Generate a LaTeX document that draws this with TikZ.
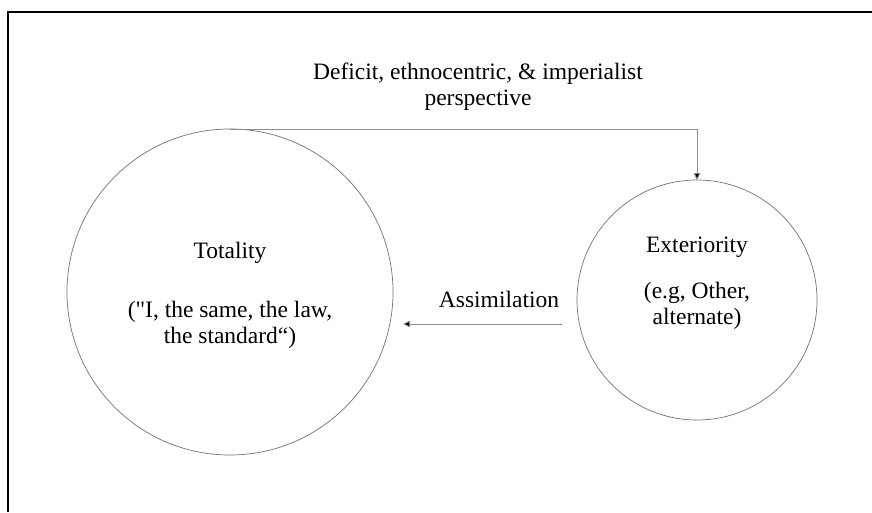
\documentclass[tikz,border=0pt]{standalone}
\usepackage{fontspec}
\setmainfont{Liberation Serif}
\usetikzlibrary{arrows.meta}
\begin{document}
\begin{tikzpicture}[x=1pt,y=-1pt,
  ring/.style={circle,draw=black!55,line width=0.7pt,inner sep=0pt,outer sep=0pt},
  conn/.style={draw=black!45,line width=0.8pt},
  tip/.style={-{Triangle[length=7pt,width=6.5pt,fill=black]}},
  lbl/.style={anchor=base,inner sep=0pt,font=\fontsize{23.5pt}{26pt}\selectfont,text=black},
  frame/.style={draw=black,line width=2pt}]
\useasboundingbox (0,0) rectangle (872,512);
\fill[white] (0,0) rectangle (872,512);
% frame (top and left edges)
\coordinate (f1) at (872,12);
\coordinate (f2) at (8,12);
\coordinate (f3) at (8,512);
\draw[frame] (f1) -- (f2) -- (f3);
% circles
\node[ring,minimum size=326pt] (tot) at (230,292) {};
\node[ring,minimum size=240pt] (ext) at (697,300) {};
% texts
\node[lbl] (persp1) at (478,79) {Deficit, ethnocentric, \& imperialist};
\node[lbl] (persp2) at (478,105) {perspective};
\node[lbl] (totT) at (230,258) {Totality};
\node[lbl] (tot1) at (230,317) {(\textquotedbl I, the same, the law,};
\node[lbl] (tot2) at (230,343) {the standard“)};
\node[lbl] (extT) at (697,252) {Exteriority};
\node[lbl] (ext1) at (697,298) {(e.g, Other,};
\node[lbl] (ext2) at (697,324) {alternate)};
\node[lbl] (assim) at (499,307) {Assimilation};
% connectors
\draw[conn,tip] (tot.north) -- (tot.north -| ext.north) -- (ext.north);
\coordinate (a1) at (562,324);
\coordinate (a2) at (403,324);
\draw[conn,tip] (a1) -- (a2);
\end{tikzpicture}
\end{document}
